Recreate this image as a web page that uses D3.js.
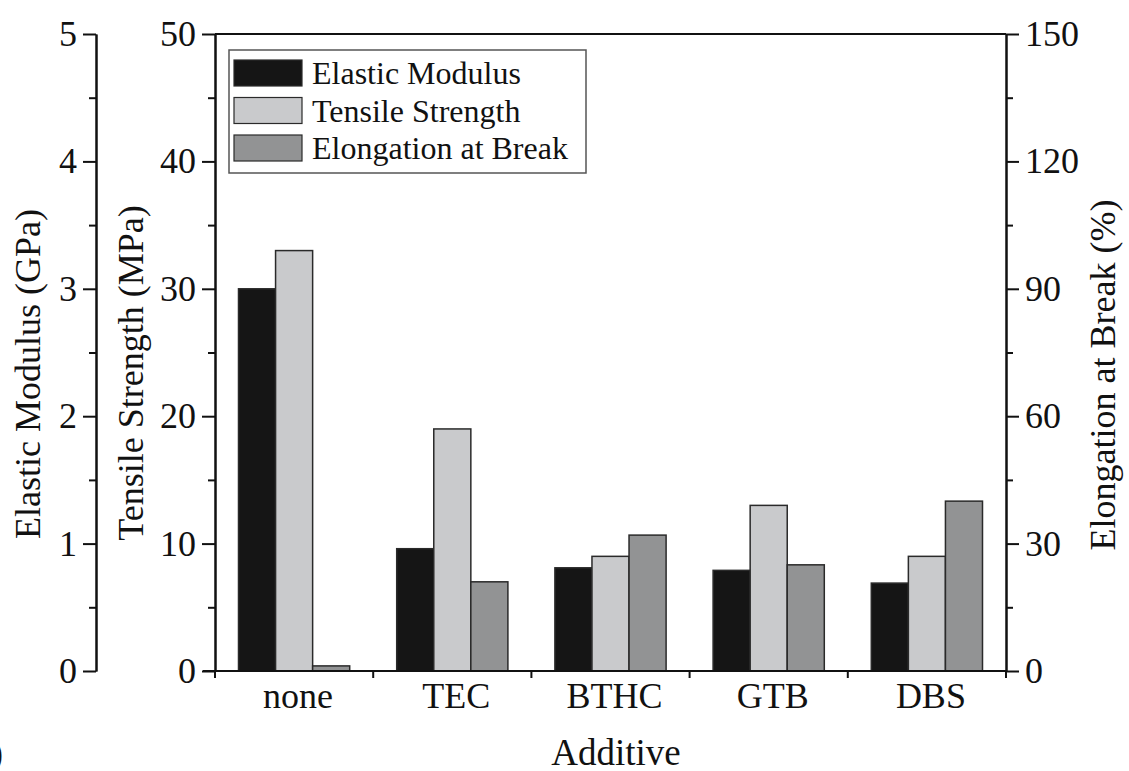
<!DOCTYPE html>
<html>
<head>
<meta charset="utf-8">
<script src="https://cdn.jsdelivr.net/npm/d3@7"></script>
<style>
  body { margin: 0; background: #fff; }
  text { font-family: "Liberation Serif", "Times New Roman", serif; fill: #111; }
</style>
</head>
<body>
<script>
// values
var additives = ["none", "TEC", "BTHC", "GTB", "DBS"];
var series = ["Elastic Modulus", "Tensile Strength", "Elongation at Break"];
var modulus = [3.0, 0.96, 0.81, 0.79, 0.69];      // GPa
var strength = [33, 19, 9, 13, 9];                 // MPa
var elongation = [1.2, 21, 32, 25, 40];            // %
var modulusTicks = [0, 1, 2, 3, 4, 5];
var strengthTicks = [0, 10, 20, 30, 40, 50];
var elongationTicks = [0, 30, 60, 90, 120, 150];
var fills = ["#151515", "#c9cacc", "#929394"];

var width = 1129, height = 771;
// (window.top is read only, so the plot edges get their own names)
var plotLeft = 215, plotRight = 1006, plotTop = 34, plotBottom = 671;

var svg = d3.select("body").append("svg")
    .attr("width", width)
    .attr("height", height);

var x0 = d3.scaleBand().domain(additives).range([plotLeft, plotRight]);
var x1 = d3.scaleBand().domain(series).range([23.5, x0.bandwidth() - 23.5]);

var yE = d3.scaleLinear().domain([0, 5]).range([plotBottom, plotTop]);
var yT = d3.scaleLinear().domain([0, 50]).range([plotBottom, plotTop]);
var yB = d3.scaleLinear().domain([0, 150]).range([plotBottom, plotTop]);
var scales = [yE, yT, yB];
var values = [modulus, strength, elongation];

// bars
var rows = [];
additives.forEach(function(a, i) {
  series.forEach(function(s, j) {
    rows.push({ add: a, ser: s, j: j, v: values[j][i] });
  });
});

svg.append("g").selectAll("rect")
  .data(rows)
  .enter()
  .append("rect")
  .attr("x", function(d) { return x0(d.add) + x1(d.ser); })
  .attr("width", x1.bandwidth())
  .attr("y", function(d) { return scales[d.j](d.v); })
  .attr("height", function(d) { return plotBottom - scales[d.j](d.v); })
  .attr("fill", function(d) { return fills[d.j]; })
  .attr("stroke", "#2a2a2a")
  .attr("stroke-width", 1.5);

// helper for an axis with major labelled ticks and minor ticks between
function drawAxis(scale, ticks, xpos, side) {
  var minor = [];
  for (var i = 0; i < ticks.length - 1; i++) minor.push((ticks[i] + ticks[i + 1]) / 2);
  var make = side == "left" ? d3.axisLeft : d3.axisRight;

  var g = svg.append("g").attr("transform", "translate(" + xpos + ",0)");
  g.call(make(scale).tickValues(ticks).tickSize(13).tickSizeOuter(0).tickPadding(6)
      .tickFormat(d3.format("d")));
  g.append("g").call(make(scale).tickValues(minor).tickSize(7).tickSizeOuter(0).tickFormat(""));

  g.selectAll("path, line").attr("stroke", "#111").attr("stroke-width", 2);
  g.selectAll("text")
    .style("font-family", '"Liberation Serif", serif')
    .style("font-size", "36px")
    .attr("fill", "#111");
  return g;
}

drawAxis(yE, modulusTicks, 96, "left");
drawAxis(yT, strengthTicks, plotLeft, "left");
drawAxis(yB, elongationTicks, plotRight, "right");

// top frame line
svg.append("line")
  .attr("x1", plotLeft).attr("x2", plotRight)
  .attr("y1", plotTop).attr("y2", plotTop)
  .attr("stroke", "#111").attr("stroke-width", 2);

// bottom axis: ticks at group boundaries, labels at centres
var bounds = additives.map(function(a) { return x0(a); }).concat([x0.range()[1]]);
var xb = svg.append("g").attr("transform", "translate(0," + plotBottom + ")");
xb.append("line")
  .attr("x1", plotLeft - 12).attr("x2", plotRight)
  .attr("stroke", "#111").attr("stroke-width", 2);
xb.selectAll(".bt")
  .data(bounds)
  .enter()
  .append("line")
  .attr("x1", function(d) { return d; })
  .attr("x2", function(d) { return d; })
  .attr("y1", 0).attr("y2", 7)
  .attr("stroke", "#111").attr("stroke-width", 2);
xb.selectAll(".lab")
  .data(additives)
  .enter()
  .append("text")
  .attr("x", function(d) { return x0(d) + x0.bandwidth() / 2 + 4; })
  .attr("y", 37)
  .attr("text-anchor", "middle")
  .style("font-size", "36px")
  .text(function(d) { return d; });

// axis titles
svg.append("text")
  .attr("transform", "translate(40,374) rotate(-90)")
  .attr("text-anchor", "middle")
  .style("font-size", "36px")
  .text("Elastic Modulus (GPa)");
svg.append("text")
  .attr("transform", "translate(143,373) rotate(-90)")
  .attr("text-anchor", "middle")
  .style("font-size", "36px")
  .text("Tensile Strength (MPa)");
svg.append("text")
  .attr("transform", "translate(1115,375) rotate(-90)")
  .attr("text-anchor", "middle")
  .style("font-size", "36px")
  .text("Elongation at Break (%)");
svg.append("text")
  .attr("x", 616)
  .attr("y", 765)
  .attr("text-anchor", "middle")
  .style("font-size", "37px")
  .text("Additive");

// cut-off panel label at the edge
svg.append("text")
  .attr("x", 3)
  .attr("y", 765)
  .attr("text-anchor", "end")
  .style("font-size", "36px")
  .text("(b)");

// legend
var legend = svg.append("g").attr("transform", "translate(229,50)");
legend.append("rect")
  .attr("width", 357).attr("height", 123)
  .attr("fill", "#fff")
  .attr("stroke", "#555").attr("stroke-width", 1.5);
var items = legend.selectAll(".item")
  .data(series)
  .enter()
  .append("g")
  .attr("transform", function(d, i) { return "translate(5," + (10 + i * 37.5) + ")"; });
items.append("rect")
  .attr("width", 68).attr("height", 26)
  .attr("fill", function(d, i) { return fills[i]; })
  .attr("stroke", "#2a2a2a").attr("stroke-width", 1.2);
items.append("text")
  .attr("x", 78)
  .attr("y", 24)
  .style("font-size", "32px")
  .text(function(d) { return d; });
</script>
</body>
</html>
